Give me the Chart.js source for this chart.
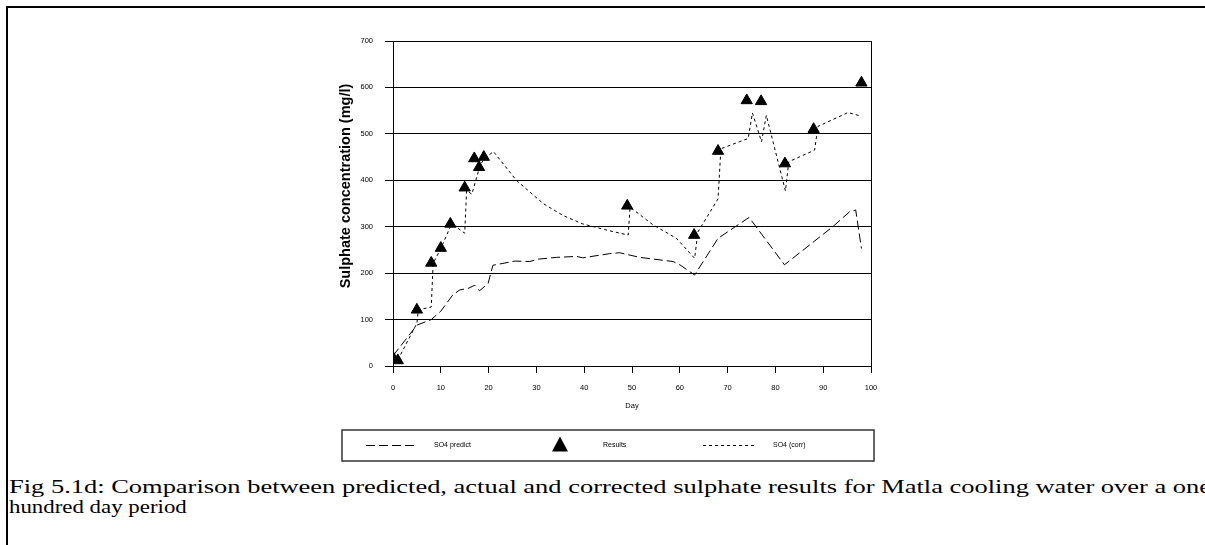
<!DOCTYPE html>
<html>
<head>
<meta charset="utf-8">
<script src="https://cdn.jsdelivr.net/npm/chart.js@4/dist/chart.umd.min.js"></script>
<style>
  body { margin: 0; background: #fff; width: 1205px; height: 545px; overflow: hidden; position: relative; }
  #frame { position: absolute; left: 6px; top: 6px; width: 1199px; height: 539px;
           border-top: 2px solid #000; border-left: 2px solid #000; box-sizing: border-box; }
  #chart-so4 { position: absolute; left: 0; top: 0; }
  .cap { position: absolute; left: 9px; font: 18px/20px "Liberation Serif", serif;
         white-space: nowrap; transform-origin: 0 0; color: #000; }
  #cap1 { top: 477px; transform: scaleX(1.47); }
  #cap2 { top: 497px; transform: scaleX(1.27); }
</style>
</head>
<body>
<div id="frame"></div>
<canvas id="chart-so4" width="1205" height="470"></canvas>
<div class="cap" id="cap1">Fig 5.1d: Comparison between predicted, actual and corrected sulphate results for Matla cooling water over a one</div>
<div class="cap" id="cap2">hundred day period</div>
<script>
// model prediction
const predictDays = [0, 5, 8, 10, 12.5, 14, 15.7, 17.1, 18.1, 19.9, 20.9, 23, 25.5, 28.6, 30.3, 34.2, 38.4, 39.7, 45.3, 47.4, 51.6, 58.6, 60, 63.1, 68, 74.5, 81.9, 92, 95.5, 96.8, 98];
const predictValues = [22, 88, 100, 118, 153, 164, 167, 174, 162, 178, 217, 221, 226, 225, 230, 234, 236, 233, 242, 244, 234, 225, 218, 196, 275, 320, 218, 300, 332, 336, 253];

// measured results
const resultDays = [0, 1, 5, 8, 10, 12, 15, 17, 18, 19, 49, 63, 68, 74, 77, 82, 88, 98];
const resultValues = [18, 12, 121, 222, 254, 306, 384, 447, 428, 450, 345, 282, 463, 572, 570, 436, 510, 610];

// corrected prediction
const corrDays = [0, 1, 5, 5.3, 8, 8.4, 10, 12, 12.5, 15, 15.4, 16.5, 18.2, 19, 21, 25.8, 31.4, 35.6, 39.7, 45, 49.2, 49.6, 54.4, 59.3, 63.1, 63.8, 68, 68.6, 74.3, 75.2, 77.1, 78.1, 82.1, 82.8, 88.2, 88.9, 95.2, 98];
const corrValues = [20, 13, 92, 121, 127, 221, 253, 300, 305, 286, 378, 370, 432, 445, 462, 400, 350, 324, 306, 292, 282, 342, 304, 275, 232, 289, 360, 468, 490, 545, 483, 540, 377, 440, 465, 516, 546, 538];

const yTitle = "Sulphate concentration (mg/l)";
const xTitle = "Day";

function toPoints(xs, ys) {
    return xs.map((x, i) => ({ x: x, y: ys[i] }));
}

const tickFont = { family: "Liberation Sans", size: 7.5 };

// legend and rotated y title drawn by hand
const extras = {
    id: "extras",
    afterDraw(chart) {
        const ctx = chart.ctx;
        ctx.save();
        ctx.fillStyle = "#000";
        ctx.font = "bold 14.5px 'Liberation Sans'";
        ctx.textAlign = "center";
        ctx.textBaseline = "middle";
        ctx.translate(346, 186);
        ctx.rotate(-Math.PI / 2);
        ctx.fillText(yTitle, 0, 0);
        ctx.restore();

        ctx.save();
        ctx.strokeStyle = "#333";
        ctx.lineWidth = 1.5;
        ctx.strokeRect(342, 430, 532, 31);
        const ly = 445.5;
        ctx.lineWidth = 1;
        ctx.strokeStyle = "#000";
        ctx.font = "7px 'Liberation Sans'";
        ctx.textBaseline = "middle";
        ctx.fillStyle = "#000";
        const ds = chart.data.datasets;

        ctx.beginPath();
        ctx.setLineDash(ds[0].borderDash);
        ctx.moveTo(366, ly); ctx.lineTo(418, ly);
        ctx.stroke();
        ctx.fillText(ds[0].label, 434, ly);

        ctx.setLineDash([]);
        ctx.beginPath();
        ctx.moveTo(560, ly - 9);
        ctx.lineTo(568, ly + 6);
        ctx.lineTo(552, ly + 6);
        ctx.closePath();
        ctx.fill();
        ctx.fillText(ds[1].label, 603, ly);

        ctx.beginPath();
        ctx.setLineDash(ds[2].borderDash);
        ctx.moveTo(703, ly); ctx.lineTo(756, ly);
        ctx.stroke();
        ctx.fillText(ds[2].label, 773, ly);
        ctx.restore();
    }
};

const config = {
    type: "line",
    data: {
        datasets: [
            {
                label: "SO4 predict",
                data: toPoints(predictDays, predictValues),
                borderColor: "#000",
                borderWidth: 1,
                borderDash: [9, 4],
                pointRadius: 0,
                tension: 0,
                order: 2,
            },
            {
                label: "Results",
                data: toPoints(resultDays, resultValues),
                showLine: false,
                pointStyle: "triangle",
                pointRadius: 6.5,
                backgroundColor: "#000",
                borderColor: "#000",
                borderWidth: 1,
                order: 0,
            },
            {
                label: "SO4 (corr)",
                data: toPoints(corrDays, corrValues),
                borderColor: "#000",
                borderWidth: 1,
                borderDash: [3, 3],
                pointRadius: 0,
                tension: 0,
                order: 1,
            },
        ],
    },
    options: {
        responsive: false,
        animation: false,
        devicePixelRatio: 1,
        layout: { padding: { left: 333, right: 334, top: 41, bottom: 60 } },
        plugins: { legend: { display: false }, tooltip: { enabled: false } },
        scales: {
            x: {
                type: "linear",
                min: 0,
                max: 100,
                ticks: { stepSize: 10, font: tickFont, color: "#000", padding: 10, maxRotation: 0 },
                grid: {
                    color: (c) => (c.tick && (c.tick.value === 0 || c.tick.value === 100)) ? "#000" : "rgba(0,0,0,0)",
                    tickColor: "#000",
                    tickLength: 7,
                    lineWidth: 1,
                },
                border: { color: "#000", width: 1 },
                title: { display: true, text: xTitle, font: tickFont, color: "#000", padding: { top: 0, bottom: 0 } },
                afterFit: (s) => { s.height = 44; },
            },
            y: {
                min: 0,
                max: 700,
                ticks: { stepSize: 100, font: tickFont, color: "#000", padding: 12 },
                grid: { color: "#000", tickColor: "#000", tickLength: 8, lineWidth: 1 },
                border: { color: "#000", width: 1 },
                afterFit: (s) => { s.width = 60; },
            },
        },
    },
    plugins: [extras],
};

const canvas = document.getElementById("chart-so4");
const chart = new Chart(canvas, config);
</script>
</body>
</html>
